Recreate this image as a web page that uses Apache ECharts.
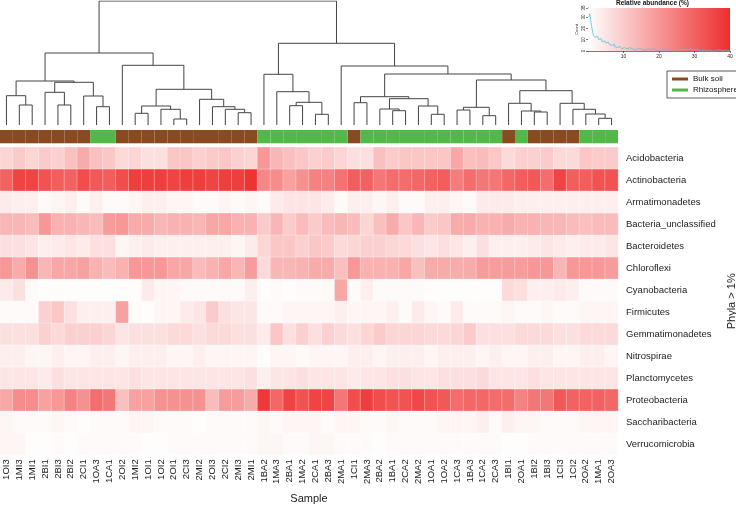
<!DOCTYPE html>
<html><head><meta charset="utf-8">
<script src="https://cdn.jsdelivr.net/npm/echarts@6/dist/echarts.min.js"></script>
<style>html,body{margin:0;padding:0;background:#fff;overflow:hidden}#c{width:736px;height:505px}</style>
</head><body><div id="c"></div>
<script>
const samples = ['1OI3','1MI3','1MI1','2BI1','2BI3','2BI2','2CI1','1OA3','1CA1','2OI2','1MI2','1OI1','1OI2','2OI1','2CI3','2MI2','2OI3','2CI2','2MI3','2MI1','1BA2','1MA3','2BA1','1MA2','2CA1','2BA3','2MA1','1CI1','2MA3','2BA2','1BA1','2CA2','2MA2','1OA1','1OA2','1CA3','1BA3','1CA2','2CA3','1BI1','2OA1','1BI2','1BI3','1CI3','1CI2','2OA2','1MA1','2OA3'];
const groups = ['B','B','B','B','B','B','B','R','R','B','B','B','B','B','B','B','B','B','B','B','R','R','R','R','R','R','R','B','R','R','R','R','R','R','R','R','R','R','R','B','R','B','B','B','B','R','R','R'];
const phyla = ['Acidobacteria','Actinobacteria','Armatimonadetes','Bacteria_unclassified','Bacteroidetes','Chloroflexi','Cyanobacteria','Firmicutes','Gemmatimonadetes','Nitrospirae','Planctomycetes','Proteobacteria','Saccharibacteria','Verrucomicrobia'];
const acidobacteria = [8,10,8,10,9,12,16,12,11,7,8,6,6,11,11,9,10,11,9,8,20,14,12,11, 9,10,8,6,6,12,10,11,11,11,11,17,12,13,11,7,9,9,10,7,7,11,10,10];
const actinobacteria = [30,36,36,33,31,30,34,32,31,34,37,37,37,36,37,37,36,37,37,39,23,22,18,21, 24,24,27,31,30,26,28,28,29,30,31,25,28,26,26,29,31,32,28,36,31,31,33,33];
const armatimonadetes = [4,3,3,1,2,3,1,3,1,1,2,3,3,2,2,1,1,2,1,2,1,4,5,5, 5,4,1,3,3,2,3,1,1,3,3,2,1,4,4,4,3,3,3,3,3,3,3,3];
const bacteriaUnclassified = [14,14,13,20,15,15,14,13,19,20,16,16,14,15,15,14,17,17,15,15,10,14,10,13, 10,13,14,13,8,12,16,11,14,10,11,16,16,15,15,16,15,15,14,14,13,12,13,13];
const bacteroidetes = [6,6,5,3,4,5,4,6,6,2,3,4,3,3,3,3,3,3,2,4,8,11,11,9, 11,10,7,8,9,9,8,7,6,5,6,5,3,6,3,3,3,4,5,4,3,4,4,5];
const chloroflexi = [20,16,21,14,17,17,18,15,13,15,20,20,20,17,17,13,15,17,14,19,7,14,14,15, 16,16,12,20,15,15,15,17,12,16,16,16,16,19,19,19,19,20,20,14,20,20,20,19];
const cyanobacteria = [4,6,1,0.5,0.5,0.5,0.5,0.5,0.5,0.5,0.5,4,2,2,1,1,1,1,1,3,0.5,1,0.5,1, 1,1,17,1,3,1,1,1,1,0.5,0.5,0.5,0.5,0.5,0.5,7,6,3,3,4,3,1,1,1];
const firmicutes = [1,1,1,9,11,6,3,3,3,18,1,0.5,2,2,4,5,10,6,5,5,1,1,2,2, 2,2,3,2,2,2,3,1,4,2,1,4,1,1,1,2,1,1,2,1,1,2,2,2];
const gemmatimonadetes = [6,6,6,9,7,9,9,9,8,5,6,6,6,7,7,6,7,7,6,6,4,11,6,9, 6,9,7,6,8,10,8,8,8,7,7,8,10,6,6,6,7,7,7,6,6,7,7,7];
const nitrospirae = [3,3,2,2,3,2,2,3,3,2,3,3,3,2,2,3,2,2,2,2,0.5,2,2,1, 2,2,2,3,3,2,3,3,3,2,3,3,3,2,3,2,2,3,3,2,2,3,3,2];
const planctomycetes = [5,5,5,4,6,5,5,5,5,5,6,5,5,5,5,5,5,5,5,6,3,5,5,6, 5,5,5,4,5,5,6,6,5,5,6,6,6,7,5,5,5,6,5,5,5,5,5,5];
const proteobacteria = [17,22,22,18,20,24,21,28,26,12,18,18,21,21,21,21,13,19,19,16,38,29,36,33, 36,36,26,34,37,34,33,33,35,33,32,28,29,29,28,28,24,26,26,32,30,30,30,29];
const saccharibacteria = [2,1,1,1,2,1,0.5,1,1,1,2,2,1,1,1,0.5,1,1,1,1,2,1,2,2, 2,1,2,2,1,1,2,1,1,1,2,2,2,3,1,3,2,2,1,1,1,2,2,2];
const verrucomicrobia = [2,2,0.5,0.5,1,0.5,1,1,1,1,1,0.5,0.5,1,1,1,1,1,1,1,2,2,1,1, 2,2,1,1,1,0.5,1,1,1,1,1,1,1,1,1,0.5,0.5,1,1,1,1,1,1,1];
const rows = [acidobacteria,actinobacteria,armatimonadetes,bacteriaUnclassified,bacteroidetes,chloroflexi,cyanobacteria,firmicutes,gemmatimonadetes,nitrospirae,planctomycetes,proteobacteria,saccharibacteria,verrucomicrobia];
// dendrogram merges: [a, b, height]; 'L' + index = leaf column, 'M' + index = earlier merge
const merges = [
 ['L1','L2',20],['L0','M0',29.3],['L4','L5',20],['L3','M2',32.7],['L7','L8',18.3],['L6','M4',29],
 ['M3','M5',42.7],['M1','M6',44],['L10','L11',11.7],['L13','L14',6],['L12','M9',15.7],['M8','M10',19],
 ['L18','L19',12.3],['L17','M12',15.7],['L16','M13',18.3],['L15','M14',25.7],['M11','M15',35.7],['L9','M16',59.7],
 ['M7','M17',72],
 ['L22','L23',19.3],['L24','L25',10.7],['M19','M20',22.7],['L21','M21',33.3],['L20','M22',50.7],
 ['L27','L28',22.3],['L30','L31',14.3],['L29','M25',16],['L33','L34',10.7],['L32','M27',19],['M26','M28',26.3],['M24','M29',28.3],
 ['L35','L36',15],['L37','L38',9.3],['M31','M32',17.7],
 ['L41','L42',13],['L40','M34',14],['L39','M35',21.7],
 ['L46','L47',6.7],['L45','M37',11],['L44','M38',15.7],['L43','M39',21.7],
 ['M36','M40',34.3],['M33','M41',45],['M30','M42',51],['L26','M43',59],['M23','M44',81.7],['M18','M45',124]
];
const histBinWidth = 0.5;
const histCounts = [30,33,22,14,12,13,10,11,8,9,7,8,6,5,6,4,3,4,3,2, 3,2,2,3,2,2,1,2,3,2,1,2, 1,2,1,1,2,1,1,0, 1,1,2,1,1,1,2,1, 1,1,1,2,1,1,2,1, 1,2,1,1,2,1,1,0, 1,1,0,1,1,0,1,0, 1,0,1,0,0,1,0,1];

const heatData = [];
rows.forEach((r, ri) => r.forEach((v, ci) => heatData.push([ci, ri, v])));

const nodePos = [];
function pos(id){ const k=id[0], i=+id.slice(1); return k==='L' ? [i,0] : nodePos[i]; }
const dendroLines = [];
merges.forEach(m => {
  const a = pos(m[0]), b = pos(m[1]), h = m[2];
  dendroLines.push({coords: [[a[0],a[1]],[a[0],h],[b[0],h],[b[0],b[1]]]});
  nodePos.push([(a[0]+b[0])/2, h]);
});

const font = 'Liberation Sans, Arial, sans-serif';
const chart = echarts.init(document.getElementById('c'), null, {renderer:'canvas'});
chart.setOption({
  animation: false,
  textStyle: {fontFamily: font},
  title: {text: 'Relative abundance (%)', left: 616, top: 0, padding: 0, textStyle: {fontSize: 6.5, fontWeight: 'bold', color: '#111', fontFamily: font}},
  legend: {
    data: ['Bulk soil','Rhizosphere'], orient: 'vertical', left: 667, top: 71,
    icon: 'rect', itemWidth: 16, itemHeight: 3, itemGap: 3, padding: [4,6,4,5],
    borderColor: '#333', borderWidth: 0.8, textStyle: {fontSize: 8, color: '#111', fontFamily: font}, selectedMode: false
  },
  grid: [
    {left: 0, top: 147.3, width: 618, height: 308, outerBoundsMode: 'none', containLabel: false},
    {left: 0, top: 130, width: 618, height: 13.3, outerBoundsMode: 'none', containLabel: false},
    {left: 0, top: 1, width: 618, height: 124, outerBoundsMode: 'none', containLabel: false},
    {left: 588, top: 8, width: 142, height: 43, outerBoundsMode: 'none', containLabel: false}
  ],
  xAxis: [
    {type: 'category', gridIndex: 0, data: samples, position: 'bottom',
     axisLine: {show: false}, axisTick: {show: false},
     axisLabel: {rotate: 90, fontSize: 9.5, margin: 4, color: '#222', interval: 0, fontFamily: font},
     name: 'Sample', nameLocation: 'middle', nameGap: 38, nameTextStyle: {fontSize: 11, color: '#222', fontFamily: font}},
    {type: 'category', gridIndex: 1, data: samples, show: false},
    {type: 'value', gridIndex: 2, min: -0.5, max: 47.5, show: false},
    {type: 'value', gridIndex: 3, min: 0, max: 40, interval: 10,
     axisLine: {lineStyle: {color: '#222', width: 0.6}}, axisTick: {length: 2, lineStyle: {color: '#222', width: 0.6}},
     splitLine: {show: false}, axisLabel: {fontSize: 5, margin: 3, color: '#222', showMinLabel: false}}
  ],
  yAxis: [
    {type: 'category', gridIndex: 0, data: phyla, inverse: true, position: 'right',
     axisLine: {show: false}, axisTick: {show: false},
     axisLabel: {fontSize: 9.5, margin: 8, color: '#222', fontFamily: font},
     name: 'Phyla > 1%', nameLocation: 'middle', nameGap: 100, nameRotate: 90,
     nameTextStyle: {fontSize: 11, color: '#222', fontFamily: font}},
    {type: 'value', gridIndex: 1, min: 0, max: 1, show: false},
    {type: 'value', gridIndex: 2, min: 0, max: 124, show: false},
    {type: 'value', gridIndex: 3, min: 0, max: 38, interval: 10,
     axisLine: {lineStyle: {color: '#222', width: 0.6}}, axisTick: {length: 2, lineStyle: {color: '#222', width: 0.6}},
     splitLine: {show: false}, axisLabel: {fontSize: 4.5, margin: 2, color: '#222', rotate: 90},
     name: 'Count', nameLocation: 'middle', nameGap: 9, nameRotate: 90, nameTextStyle: {fontSize: 4, color: '#222'}}
  ],
  visualMap: [{
    type: 'continuous', show: false, seriesIndex: 0, min: 0, max: 40, dimension: 2,
    inRange: {color: ['#ffffff', '#ee2e2e']}
  }],
  series: [
    {type: 'heatmap', xAxisIndex: 0, yAxisIndex: 0, data: heatData,
     itemStyle: {borderColor: 'rgba(255,255,255,0.6)', borderWidth: 0.5}, emphasis: {disabled: true}},
    {name: 'Bulk soil', type: 'bar', xAxisIndex: 1, yAxisIndex: 1, barWidth: '100%', barGap: '-100%',
     data: groups.map(g => g === 'B' ? 1 : '-'), itemStyle: {color: '#8a4a1f'}, silent: true},
    {name: 'Rhizosphere', type: 'bar', xAxisIndex: 1, yAxisIndex: 1, barWidth: '100%', barGap: '-100%',
     data: groups.map(g => g === 'R' ? 1 : '-'), itemStyle: {color: '#52b848'}, silent: true},
    {type: 'lines', coordinateSystem: 'cartesian2d', xAxisIndex: 2, yAxisIndex: 2, polyline: true,
     data: dendroLines, lineStyle: {color: '#444', width: 1, opacity: 1}, silent: true},
    {type: 'line', xAxisIndex: 3, yAxisIndex: 3, step: 'middle', showSymbol: false,
     data: histCounts.map((c, i) => [(i + 0.5) * histBinWidth, c]),
     lineStyle: {color: '#55c3e6', width: 0.8}, silent: true,
     markArea: {silent: true, data: [[{xAxis: 0, yAxis: 0, itemStyle: {color: new echarts.graphic.LinearGradient(0,0,1,0,[{offset:0,color:'#ffffff'},{offset:1,color:'#ee2e2e'}])}}, {xAxis: 40, yAxis: 38}]]}}
  ]
});
</script></body></html>
